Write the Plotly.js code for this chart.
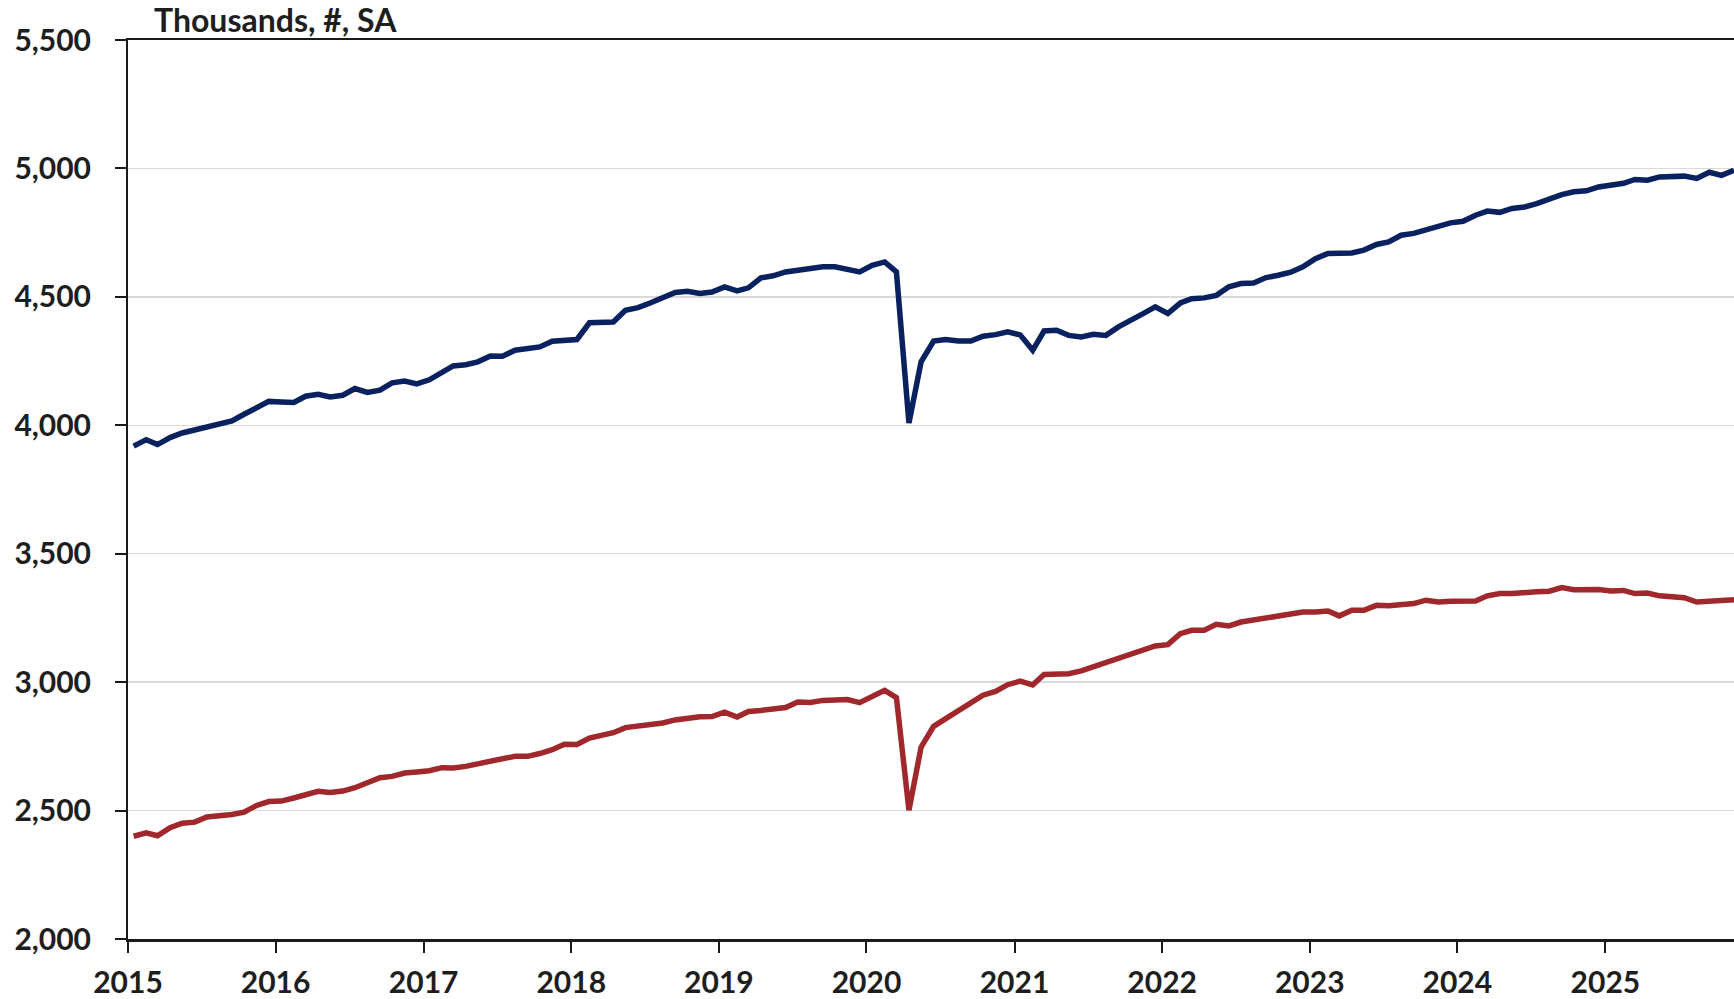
<!DOCTYPE html>
<html>
<head>
<meta charset="utf-8">
<script src="https://cdn.plot.ly/plotly-3.0.1.min.js"></script>
<style>
  html, body { margin: 0; padding: 0; background: #ffffff; }
  #chart { width: 1734px; height: 999px; }
</style>
</head>
<body>
<div id="chart"></div>
<script>
// ---- Data (monthly, Jan 2015 - Nov 2025), thousands, SA ----
const startYear = 2015;
const monthCount = 131;

const seriesBlue = [
  3919, 3944, 3925, 3952, 3970, 3981, 3990, 4005, 4017, 4043, 4069, 4093,
  4091, 4089, 4113, 4121, 4110, 4117, 4143, 4128, 4137, 4165, 4172, 4161,
  4177, 4208, 4231, 4236, 4247, 4270, 4269, 4292, 4300, 4305, 4327, 4332,
  4334, 4399, 4401, 4402, 4448, 4458, 4476, 4497, 4517, 4522, 4513, 4519,
  4539, 4523, 4535, 4574, 4582, 4597, 4604, 4608, 4617, 4617, 4606, 4597,
  4623, 4636, 4597, 4009, 4247, 4328, 4334, 4328, 4328, 4347, 4353, 4364,
  4352, 4292, 4367, 4370, 4350, 4344, 4354, 4350, 4383, 4411, 4435, 4461,
  4435, 4476, 4493, 4496, 4506, 4539, 4552, 4554, 4575, 4584, 4596, 4617,
  4649, 4669, 4669, 4671, 4682, 4704, 4714, 4740, 4747, 4762, 4775, 4788,
  4794, 4818, 4834, 4829, 4844, 4850, 4863, 4883, 4898, 4909, 4913, 4928,
  4935, 4942, 4957, 4954, 4967, 4967, 4970, 4961, 4985, 4973, 4993
];

const seriesRed = [
  2400, 2413, 2402, 2433, 2451, 2455, 2475, 2479, 2485, 2494, 2520, 2535,
  2537, 2549, 2559, 2575, 2570, 2576, 2589, 2607, 2628, 2633, 2646, 2650,
  2655, 2667, 2666, 2672, 2683, 2692, 2702, 2711, 2711, 2722, 2737, 2758,
  2757, 2782, 2790, 2803, 2823, 2828, 2832, 2841, 2853, 2861, 2865, 2866,
  2883, 2864, 2886, 2890, 2894, 2901, 2923, 2921, 2929, 2933, 2932, 2920,
  2945, 2968, 2940, 2501, 2747, 2828, 2858, 2890, 2919, 2949, 2964, 2990,
  3004, 2989, 3030, 3029, 3033, 3044, 3060, 3078, 3095, 3108, 3130, 3141,
  3146, 3189, 3202, 3202, 3225, 3219, 3234, 3243, 3250, 3260, 3267, 3273,
  3273, 3277, 3258, 3280, 3280, 3299, 3297, 3299, 3306, 3319, 3312, 3315,
  3316, 3316, 3336, 3345, 3345, 3351, 3352, 3354, 3368, 3360, 3360, 3361,
  3355, 3357, 3345, 3347, 3336, 3334, 3329, 3312, 3316, 3316, 3321
];

const yearTicks = ['2015','2016','2017','2018','2019','2020','2021','2022','2023','2024','2025'];
const yTickVals = [2000, 2500, 3000, 3500, 4000, 4500, 5000, 5500];
const unitLabel = 'Thousands, #, SA';

// month dates (mid-month)
const months = [];
for (let i = 0; i < monthCount; i++) {
  const y = startYear + Math.floor(i / 12);
  const m = (i % 12) + 1;
  months.push(y + '-' + String(m).padStart(2, '0') + '-15');
}

const FONT = 'Lato, "Open Sans", "DejaVu Sans", sans-serif';
const TXT = '#1e1e1e';

const traces = [
  {
    x: months, y: seriesBlue, type: 'scatter', mode: 'lines',
    line: { color: '#0a215f', width: 5.5 }, hoverinfo: 'skip'
  },
  {
    x: months, y: seriesRed, type: 'scatter', mode: 'lines',
    line: { color: '#a0282c', width: 5.5 }, hoverinfo: 'skip'
  }
];

const layout = {
  width: 1734, height: 999,
  margin: { l: 128, r: 0, t: 40, b: 60, pad: 0 },
  paper_bgcolor: '#ffffff', plot_bgcolor: '#ffffff',
  showlegend: false,
  font: { family: FONT, color: TXT, size: 30, weight: 'bold' },
  xaxis: {
    type: 'date',
    range: ['2015-01-01', months[months.length - 1]],
    tickmode: 'array',
    tickvals: yearTicks.map(y => y + '-01-01'),
    ticktext: yearTicks,
    ticks: 'outside', ticklen: 11, tickwidth: 2, tickcolor: '#1a1a1a',
    showline: true, linecolor: '#1a1a1a', linewidth: 2.5, mirror: true,
    showgrid: false, zeroline: false,
    tickfont: { family: FONT, size: 30, color: TXT, weight: 'bold' },
    ticklabelstandoff: 4,
    automargin: false, fixedrange: true
  },
  yaxis: {
    range: [2000, 5500],
    tickmode: 'array',
    tickvals: yTickVals,
    ticktext: yTickVals.map(v => v.toLocaleString('en-US')),
    ticks: 'outside', ticklen: 11, tickwidth: 2, tickcolor: '#1a1a1a',
    showline: true, linecolor: '#1a1a1a', linewidth: 2,
    showgrid: true, gridcolor: '#d9d9d9', gridwidth: 1.5,
    zeroline: false,
    tickfont: { family: FONT, size: 30, color: TXT, weight: 'bold' },
    ticklabelstandoff: 18,
    automargin: false, fixedrange: true
  },
  annotations: [
    {
      text: unitLabel,
      xref: 'paper', yref: 'paper',
      x: (152 - 128) / 1606, y: 1 + 20 / 899,
      xanchor: 'left', yanchor: 'middle',
      showarrow: false,
      font: { family: FONT, size: 32, color: TXT, weight: 'bold' }
    }
  ]
};

Plotly.newPlot('chart', traces, layout, { staticPlot: true, displayModeBar: false });
</script>
</body>
</html>
